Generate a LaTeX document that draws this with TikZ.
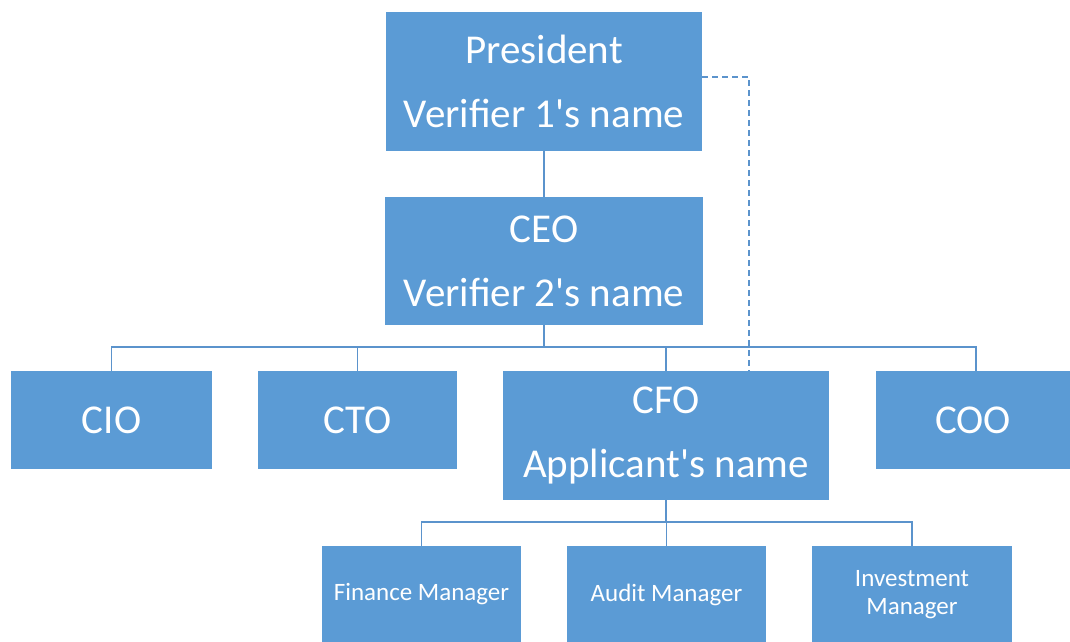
\documentclass[tikz,border=0pt]{standalone}
\usepackage{fontspec}
\setmainfont{Carlito}
\usetikzlibrary{positioning}
\definecolor{boxblue}{HTML}{5B9BD5}
\definecolor{lineblue}{HTML}{5B93CC}

\begin{document}
\begin{tikzpicture}[x=1pt, y=-1pt,
  post/.style={rectangle, fill=boxblue, text=white, inner sep=0pt, align=center,
    font=\fontsize{41}{64}\selectfont},
  small/.style={post, font=\fontsize{25}{28}\selectfont},
  link/.style={lineblue, line width=1.6pt},
  dotlink/.style={link, dash pattern=on 6pt off 4pt}]
\useasboundingbox (0,0) rectangle (1070,642);
% top
\node(pres)[post, minimum width=316pt, minimum height=139pt] at (544,81.5) {President\\Verifier 1\textquotesingle s name};
\node(ceo)[post, minimum width=318pt, minimum height=128pt] at (544,261) {CEO\\Verifier 2\textquotesingle s name};
% chiefs
\node(cio)[post, minimum width=201pt, minimum height=98pt] at (111.5,420) {CIO};
\node(cto)[post, minimum width=199pt, minimum height=98pt] at (357.5,420) {CTO};
\node(cfo)[post, minimum width=326pt, minimum height=129pt] at (666,435.5) {CFO\\Applicant\textquotesingle s name};
\node(coo)[post, minimum width=194pt, minimum height=98pt] at (973,420) {COO};
% managers
\node(fin)[small, minimum width=199pt, minimum height=97pt] at (421.5,594.5) {Finance Manager};
\node(aud)[small, minimum width=199pt, minimum height=97pt] at (666.5,594.5) {Audit Manager};
\node(inv)[small, minimum width=200pt, minimum height=97pt] at (912,594.5) {Investment\\Manager};
% links
\coordinate(bus1) at (544,347);
\coordinate(bus2) at (666,522);
\draw[link] (pres) -- (ceo);
\draw[link] (ceo.south) -- (bus1);
\foreach \n in {cio,cto,cfo}
  \draw[link] (bus1) -| (\n.north);
\draw[link] (bus1) -| (coo.north -| 976,0);
\draw[link] (cfo.south) -- (bus2);
\foreach \n in {fin,aud,inv}
  \draw[link] (bus2) -| (\n.north);
\draw[dotlink] (pres.east |- 0,77) -| (cfo.north -| 749,0);
\end{tikzpicture}
\end{document}
